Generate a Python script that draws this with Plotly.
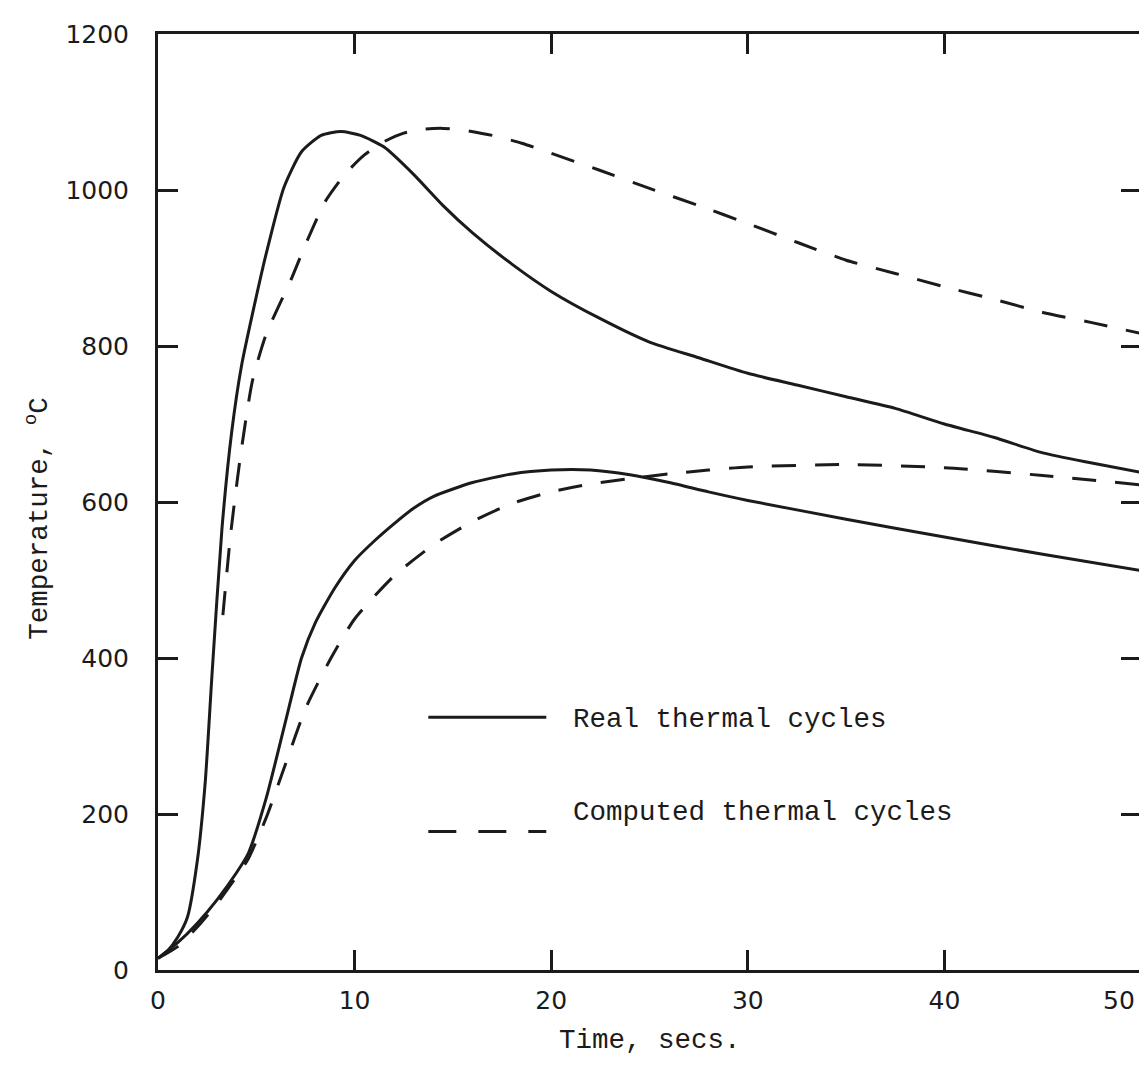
import plotly.graph_objects as go

# ---- data ----
real_upper_t = [0, 0.5, 1, 1.5, 2, 2.4, 2.75, 3.25, 3.75, 4.25, 4.9, 5.5, 6.4, 7.3, 8.3, 9.3,
                10.3, 11.5, 13, 14.5, 16, 18, 20, 22.5, 25, 27.5, 30, 32.5, 35, 37.5, 40,
                42.5, 45, 47.5, 50]
real_upper_T = [15, 25, 42, 68, 140, 240, 380, 565, 690, 775, 852, 918, 1003, 1049, 1070, 1075,
                1070, 1055, 1020, 980, 945, 905, 870, 835, 805, 785, 765, 750, 735, 720, 700,
                683, 663, 650, 638]

comp_upper_t = [3.3, 3.7, 4.2, 4.8, 5.5, 6.8, 7.5, 8.5, 9.5, 10.5, 11.5, 12.5, 13.5, 14.5,
                15.5, 17, 18.5, 20, 22.5, 25, 27.5, 30, 32.5, 35, 37.5, 40, 42.5, 45, 47.5, 50]
comp_upper_T = [455, 560, 660, 755, 815, 887, 930, 985, 1020, 1045, 1062, 1073, 1078, 1079,
                1077, 1070, 1060, 1047, 1025, 1002, 980, 957, 933, 910, 893, 876, 860, 843, 830, 816]

real_lower_t = [0, 1, 2, 3, 4, 4.6, 5.5, 6.5, 7.3, 8, 9, 10, 11, 12, 13, 14, 16, 18, 20, 22,
                24, 26, 28, 30, 35, 40, 45, 50]
real_lower_T = [15, 35, 60, 90, 125, 150, 220, 320, 400, 445, 490, 525, 550, 572, 592, 607,
                625, 636, 641, 641, 635, 625, 613, 602, 578, 555, 533, 512]

comp_lower_t = [0, 1, 2, 3, 4, 4.6, 5.5, 6.5, 7.5, 8.8, 10, 12, 14, 16, 18, 20, 22, 24, 26,
                28, 30, 35, 40, 45, 50]
comp_lower_T = [15, 30, 55, 85, 120, 143, 195, 265, 335, 400, 450, 505, 545, 575, 598, 613,
                623, 630, 636, 641, 645, 648, 644, 634, 622]

x_ticks = [0, 10, 20, 30, 40, 50]
y_ticks = [0, 200, 400, 600, 800, 1000, 1200]
legend_labels = ["Real thermal cycles", "Computed thermal cycles"]
x_title = "Time, secs."
y_title = "Temperature, <sup>o</sup>C"

INK = "#1b1b1b"
DASH = "24px,19px"
LEG_DASH = "28px,22px"
MONO = "Courier New, Liberation Mono, monospace"
SANS = "DejaVu Sans, Verdana, sans-serif"
MONO_SIZE = 27.5

fig = go.Figure()
for t, T, dash, name in [
    (real_upper_t, real_upper_T, "solid", legend_labels[0]),
    (real_lower_t, real_lower_T, "solid", legend_labels[0]),
    (comp_upper_t, comp_upper_T, DASH, legend_labels[1]),
    (comp_lower_t, comp_lower_T, DASH, legend_labels[1]),
]:
    fig.add_trace(go.Scatter(
        x=t, y=T, mode="lines", name=name, showlegend=False,
        line=dict(color=INK, width=3, dash=dash, shape="spline", smoothing=0.6),
        hoverinfo="x+y",
    ))

# hand-drawn style legend (layout decoration in paper coordinates)
leg_x0, leg_x1, leg_tx = 0.275, 0.395, 0.42
for line_y, text_y, dash, label in [(0.270, 0.268, "solid", legend_labels[0]),
                                    (0.148, 0.168, LEG_DASH, legend_labels[1])]:
    fig.add_shape(type="line", xref="paper", yref="paper", x0=leg_x0, x1=leg_x1,
                  y0=line_y, y1=line_y, line=dict(color=INK, width=3, dash=dash))
    fig.add_annotation(xref="paper", yref="paper", x=leg_tx, y=text_y, text=label,
                       showarrow=False, xanchor="left", yanchor="middle",
                       font=dict(family=MONO, size=MONO_SIZE, color=INK))

axis_common = dict(
    showline=True, linecolor=INK, linewidth=3, mirror="ticks",
    ticks="inside", ticklen=20, tickwidth=3, tickcolor=INK,
    showgrid=False, zeroline=False, automargin=False,
    tickfont=dict(family=SANS, size=25, color=INK),
)

# the last x label sits flush with the right edge, as in the reference
fig.update_xaxes(range=[0, 50], tickvals=x_ticks[:-1], ticktext=[str(v) for v in x_ticks[:-1]],
                 ticklabelstandoff=6, **axis_common)
fig.add_annotation(x=x_ticks[-1], xref="x", y=0, yref="paper", yanchor="top", xanchor="right",
                   yshift=-14, xshift=-4, text=str(x_ticks[-1]), showarrow=False,
                   font=dict(family=SANS, size=25, color=INK))
# x-axis title
fig.add_annotation(x=0.5, xref="paper", y=-0.075, yref="paper", yanchor="middle", xanchor="center",
                   text=x_title, showarrow=False, font=dict(family=MONO, size=MONO_SIZE, color=INK))

fig.update_yaxes(range=[0, 1200], tickvals=y_ticks, ticktext=[str(v) for v in y_ticks],
                 title=dict(text=y_title + "&nbsp;&nbsp;",
                            font=dict(family=MONO, size=MONO_SIZE, color=INK), standoff=10),
                 ticklabelstandoff=21, **axis_common)

# the page body keeps the browser's 8px margin, so the figure is sized to fit the window
fig.update_layout(
    width=1139, height=1050,
    margin=dict(l=150, r=6, t=26, b=88),
    paper_bgcolor="white", plot_bgcolor="white",
    showlegend=False,
)

fig.write_html("out.html")
